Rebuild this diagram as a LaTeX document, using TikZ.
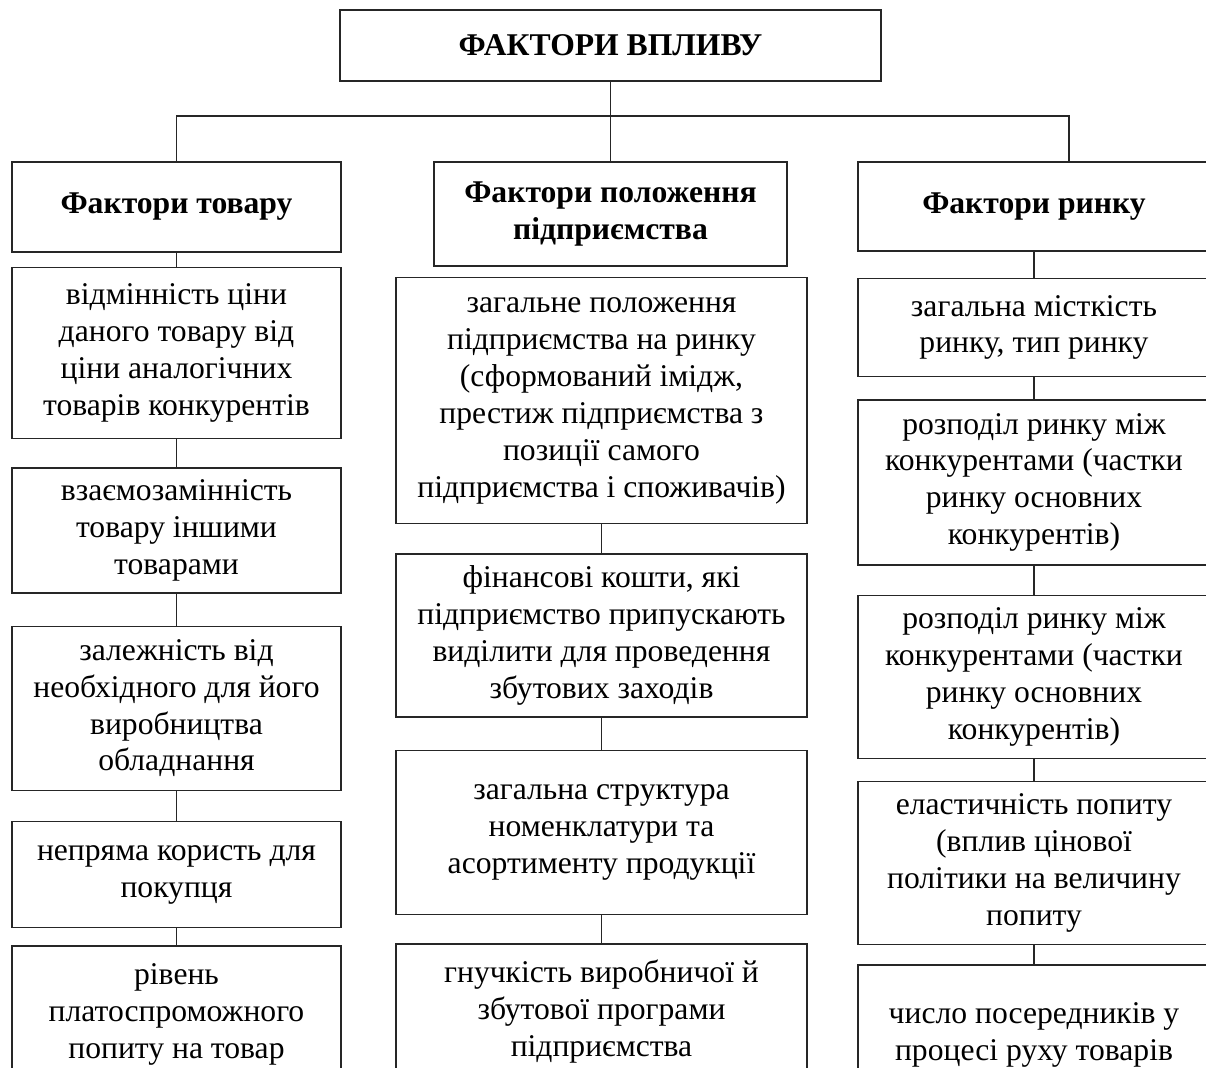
\documentclass[tikz,border=0pt]{standalone}
\usepackage{fontspec}
\setmainfont{Liberation Serif}
\usepackage{tikz}
\usetikzlibrary{positioning}
\tikzset{
  itembox/.style = {draw=black!85, line width=0.8pt, align=center, inner sep=2pt, font=\fontsize{18}{21}\selectfont},
  headbox/.style = {itembox, font=\fontsize{18}{21}\selectfont\bfseries},
  link/.style    = {draw=black!85, line width=0.6pt},
}

\begin{document}
\begin{tikzpicture}[x=0.2mm, y=-0.2mm]
  \useasboundingbox (0,0) rectangle (1206,1068);
  \clip (0,0) rectangle (1206,1068);
  \node[headbox, minimum width=108.2mm, minimum height=14.2mm] (vplyv) at (610.5,45.5) {ФАКТОРИ ВПЛИВУ};
  % column 1
  \node[headbox, minimum width=65.8mm, minimum height=18mm] (tovar) at (176.5,207) {Фактори товару};
  \node[itembox, below=2.8mm of tovar, minimum width=65.8mm, minimum height=34.2mm] (t1) {відмінність ціни\\даного товару від\\ціни аналогічних\\товарів конкурентів};
  \node[itembox, below=5.6mm of t1, minimum width=65.8mm, minimum height=25mm] (t2) {взаємозамінність\\товару іншими\\товарами};
  \node[itembox, below=6.4mm of t2, minimum width=65.8mm, minimum height=32.8mm] (t3) {залежність від\\необхідного для його\\виробництва\\обладнання};
  \node[itembox, below=6mm of t3, minimum width=65.8mm, minimum height=21.2mm] (t4) {непряма користь для\\покупця};
  \node[itembox, below=3.4mm of t4, minimum width=65.8mm, minimum height=27.2mm] (t5) {рівень\\платоспроможного\\попиту на товар};
  % column 2
  \node[headbox, minimum width=70.6mm, minimum height=20.8mm] (polozh) at (610.5,214) {Фактори положення\\підприємства};
  \node[itembox, anchor=north, minimum width=82.2mm, minimum height=49.2mm] (p1) at (601.5,277) {загальне положення\\підприємства на ринку\\(сформований імідж,\\престиж підприємства з\\позиції самого\\підприємства і споживачів)};
  \node[itembox, below=5.8mm of p1, minimum width=82.2mm, minimum height=32.6mm] (p2) {фінансові кошти, які\\підприємство припускають\\виділити для проведення\\збутових заходів};
  \node[itembox, below=6.4mm of p2, minimum width=82.2mm, minimum height=32.8mm] (p3) {загальна структура\\номенклатури  та\\асортименту продукції};
  \node[itembox, below=5.6mm of p3, minimum width=82.2mm, minimum height=27.2mm] (p4) {гнучкість виробничої й\\збутової програми\\підприємства};
  % column 3
  \node[headbox, minimum width=70.4mm, minimum height=17.8mm] (rynok) at (1034,206.5) {Фактори ринку};
  \node[itembox, below=5.2mm of rynok, minimum width=70.4mm, minimum height=19.6mm] (r1) {загальна місткість\\ринку, тип ринку};
  \node[itembox, below=4.4mm of r1, minimum width=70.4mm, minimum height=33mm] (r2) {розподіл ринку між\\конкурентами (частки\\ринку основних\\конкурентів)};
  \node[itembox, below=5.8mm of r2, minimum width=70.4mm, minimum height=32.6mm] (r3) {розподіл ринку між\\конкурентами (частки\\ринку основних\\конкурентів)};
  \node[itembox, below=4.4mm of r3, minimum width=70.4mm, minimum height=32.6mm] (r4) {еластичність попиту\\(вплив цінової\\політики на величину\\попиту};
  \node[itembox, below=3.8mm of r4, minimum width=70.4mm, minimum height=28mm] (r5) {число посередників у\\процесі руху товарів};
  % bus from the title
  \coordinate (bus) at (1069,116);
  \draw[link] (vplyv.south) -- (vplyv.south |- bus);
  \draw[link] (tovar.north) |- (bus) -- (bus |- rynok.north);
  \draw[link] (vplyv.south |- bus) -- (polozh.north);
  \draw[link] (tovar) -- (t1);
  \draw[link] (t1) -- (t2);
  \draw[link] (t2) -- (t3);
  \draw[link] (t3) -- (t4);
  \draw[link] (t4) -- (t5);
  \draw[link] (p1) -- (p2);
  \draw[link] (p2) -- (p3);
  \draw[link] (p3) -- (p4);
  \draw[link] (rynok) -- (r1);
  \draw[link] (r1) -- (r2);
  \draw[link] (r2) -- (r3);
  \draw[link] (r3) -- (r4);
  \draw[link] (r4) -- (r5);
\end{tikzpicture}
\end{document}
